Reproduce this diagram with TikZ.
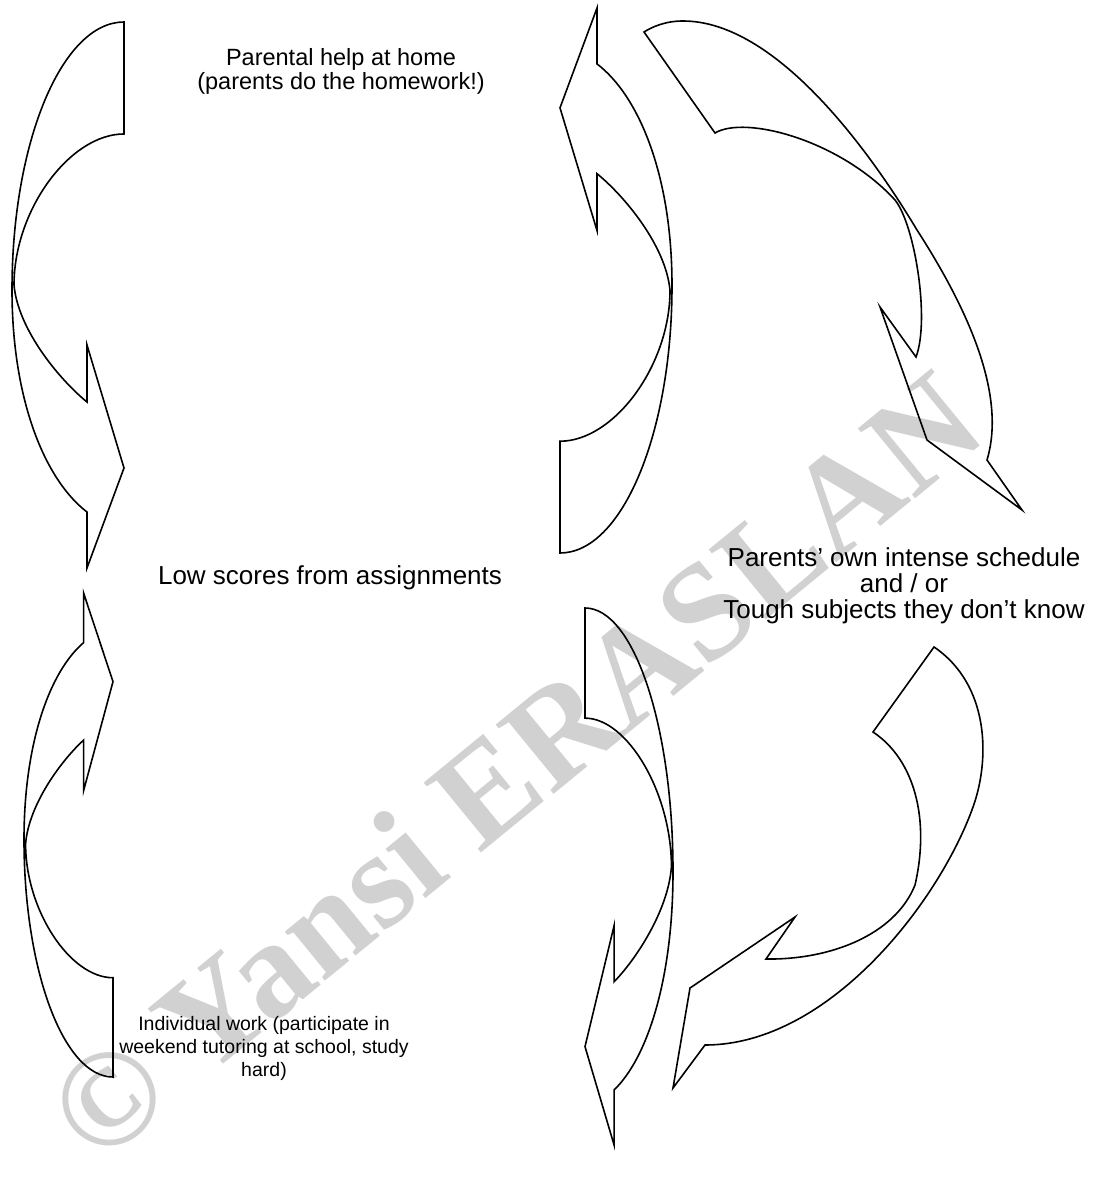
\documentclass[tikz,border=0pt]{standalone}
\usepackage{fontspec}
\setmainfont{Liberation Sans}
\newfontfamily\wmfont{Liberation Serif}
\begin{document}
\begin{tikzpicture}[x=1pt,y=-1pt,
  arr/.style={draw=black, line width=1.6pt, line join=miter},
  lbl/.style={align=center, inner sep=0pt},
  carrow/.pic={\draw[arr] (1,0) -- (1,0.2051)
     .. controls (0.5179,0.2051) and (0.0179,0.3443) .. (0.0179,0.4817)
     .. controls (0.0536,0.5641) and (0.4286,0.6557) .. (0.6696,0.6960)
     -- (0.6696,0.5916) -- (1,0.8168) -- (0.6696,1) -- (0.6696,0.8974)
     .. controls (0.2946,0.8388) and (0,0.6923) .. (0,0.4908)
     .. controls (0,0.2198) and (0.4464,0) .. (1,0) -- cycle;}]
\useasboundingbox (0,0) rectangle (1099,1185);
% watermark
\node[rotate=39.3, text=black!18, inner sep=0pt, font=\wmfont\bfseries\fontsize{138}{138}\selectfont] (wm) at (514,766) {© Yansi ERASLAN};
% curved arrows of one kind
\pic[shift={(12,22)}, xscale=112, yscale=546] (a1) {carrow};
\pic[shift={(672,553)}, xscale=-112, yscale=-545] (a2) {carrow};
\pic[shift={(24,1077)}, xscale=89, yscale=-484] (a4) {carrow};
\pic[shift={(673,608)}, xscale=-88, yscale=537] (a5) {carrow};
% diagonal arrow top right
\draw[arr] (644,32) -- (715,133)
  .. controls (745,115) and (840,140) .. (895,200)
  .. controls (915,225) and (930,320) .. (916,357)
  -- (880,307) -- (927,440) -- (1022,510) -- (987,460)
  .. controls (1005,400) and (975,320) .. (917,230)
  .. controls (860,135) and (770,21) .. (683,21)
  .. controls (665,21) and (652,27) .. (644,32) -- cycle;
% diagonal arrow bottom right
\draw[arr] (934,647) -- (873,732)
  .. controls (915,760) and (930,820) .. (915,885)
  .. controls (895,935) and (830,960) .. (766,959)
  -- (795,917) -- (690,988) -- (673,1088) -- (705,1045)
  .. controls (830,1045) and (940,900) .. (973,807)
  .. controls (990,760) and (990,685) .. (934,647) -- cycle;
% labels
\node[lbl, font=\fontsize{23.5}{24}\selectfont] (t1) at (341,71) {Parental help at home\\(parents do the homework!)};
\node[lbl, font=\fontsize{26}{27}\selectfont] (t2) at (330,578) {Low scores from assignments};
\node[lbl, font=\fontsize{26}{26}\selectfont] (t3) at (904,586) {Parents’ own intense schedule\\and / or\\Tough subjects they don’t know};
\node[lbl, font=\fontsize{19.5}{23}\selectfont] (t4) at (264,1048) {Individual work (participate in\\weekend tutoring at school, study\\hard)};
\end{tikzpicture}
\end{document}
